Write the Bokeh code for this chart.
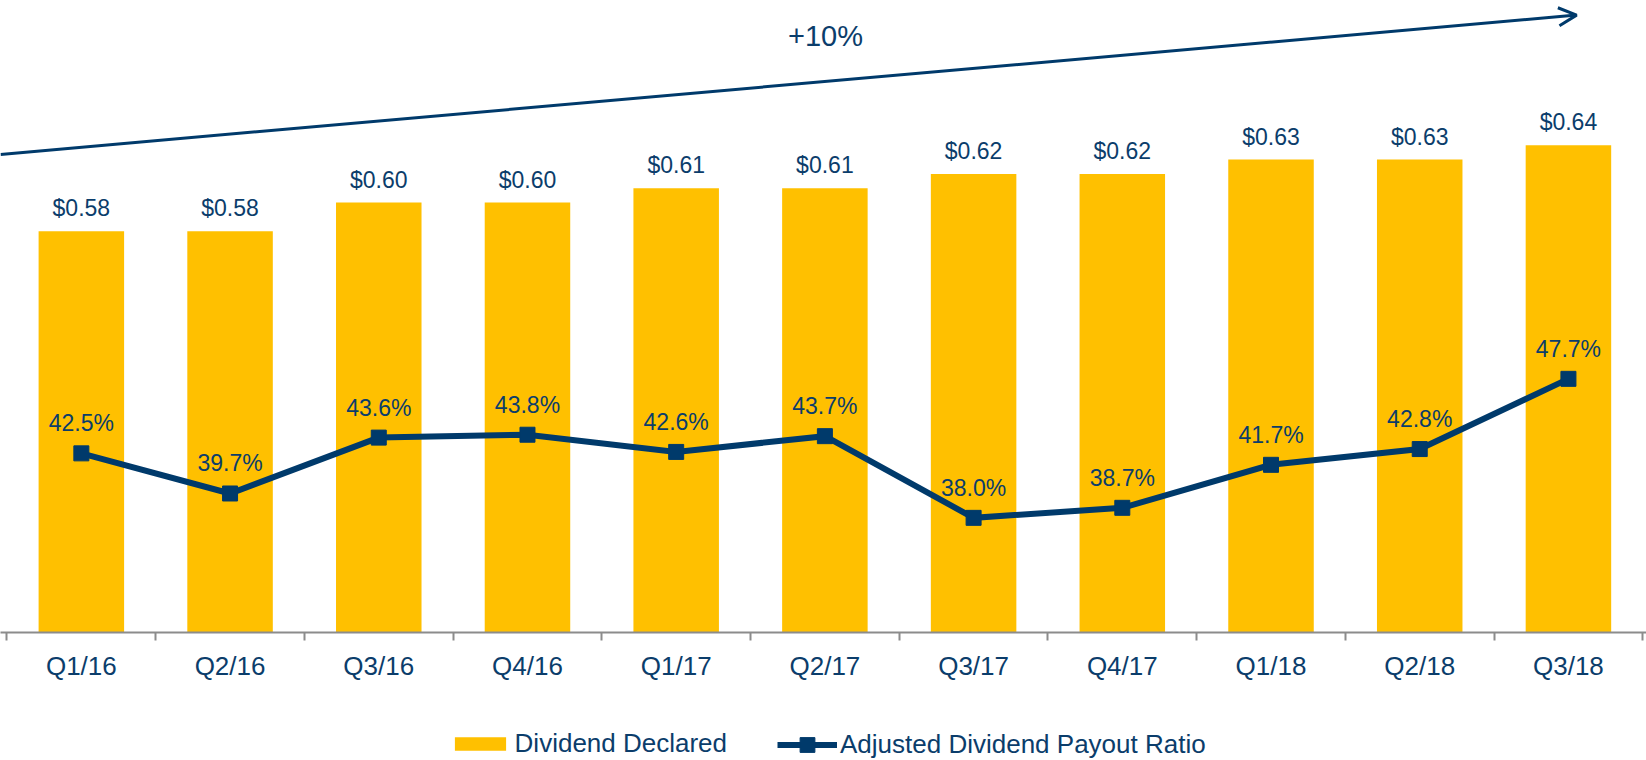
from bokeh.plotting import figure
from bokeh.layouts import column
from bokeh.models import (Range1d, FixedTicker, ColumnDataSource, Arrow, OpenHead,
                          Label, Legend, LegendItem)
from bokeh.embed import file_html
from bokeh.resources import INLINE
from bokeh.core.properties import value

# ---- data ----
categories = ["Q1/16", "Q2/16", "Q3/16", "Q4/16", "Q1/17", "Q2/17",
              "Q3/17", "Q4/17", "Q1/18", "Q2/18", "Q3/18"]
dividend_declared = [0.58, 0.58, 0.60, 0.60, 0.61, 0.61, 0.62, 0.62, 0.63, 0.63, 0.64]
payout_ratio = [42.5, 39.7, 43.6, 43.8, 42.6, 43.7, 38.0, 38.7, 41.7, 42.8, 47.7]
series_names = ["Dividend Declared", "Adjusted Dividend Payout Ratio"]
growth_label = "+10%"

# ---- styles ----
GOLD = "#FFC000"
NAVY = "#003A6B"
TEXT = "#0B3D6B"
AXIS = "#8C8C8C"
FONT = "Liberation Sans"

n = len(categories)
xs = [i + 0.5 for i in range(n)]
src = ColumnDataSource(dict(
    x=xs,
    div=dividend_declared,
    pct=payout_ratio,
    div_label=[f"${v:.2f}" for v in dividend_declared],
    pct_label=[f"{v:.1f}%" for v in payout_ratio],
))

p = figure(width=1646, height=698, x_range=Range1d(-0.0437, 11.025), y_range=Range1d(0.30, 0.741),
           output_backend="svg", toolbar_location=None, y_axis_location=None,
           min_border_left=0, min_border_right=0, min_border_top=0, min_border_bottom=66)
p.extra_y_ranges = {"pct": Range1d(30, 74.1)}
p.grid.visible = False
p.outline_line_color = None
p.background_fill_color = "white"
p.border_fill_color = "white"

# x axis: labels at centres, tick marks at category boundaries
ax = p.xaxis[0]
ax.ticker = FixedTicker(ticks=xs, minor_ticks=list(range(n + 1)))
ax.major_label_overrides = {x: c for x, c in zip(xs, categories)}
ax.major_tick_line_color = None
ax.major_tick_out = 8
ax.major_tick_in = 0
ax.minor_tick_line_color = AXIS
ax.minor_tick_line_width = 2
ax.minor_tick_out = 8
ax.minor_tick_in = 0
ax.axis_line_color = AXIS
ax.axis_line_width = 2
ax.major_label_standoff = 10
ax.major_label_text_font = FONT
ax.major_label_text_font_size = "26px"
ax.major_label_text_color = TEXT

bars = p.vbar(x="x", top="div", bottom=0.30, width=0.575, source=src,
              fill_color=GOLD, line_color=None)

line = p.line(x="x", y="pct", source=src, y_range_name="pct",
              line_color=NAVY, line_width=6, line_join="miter")
marks = p.scatter(x="x", y="pct", source=src, y_range_name="pct", marker="square",
                  size=15, fill_color=NAVY, line_color=NAVY)

p.text(x="x", y="div", text="div_label", source=src, y_offset=-23,
       text_align="center", text_baseline="alphabetic",
       text_font=value(FONT), text_font_size="23px", text_color=TEXT)
p.text(x="x", y="pct", text="pct_label", source=src, y_range_name="pct", y_offset=-30,
       text_align="center", text_baseline="alphabetic",
       text_font=value(FONT), text_font_size="23px", text_color=TEXT)

# growth arrow
p.add_layout(Arrow(end=OpenHead(size=18, line_color=NAVY, line_width=3),
                   x_start=-0.0437, y_start=0.6336, x_end=10.555, y_end=0.7308,
                   line_color=NAVY, line_width=3))
p.add_layout(Label(x=5.504, y=0.7159, text=growth_label, text_align="center",
                   text_baseline="middle", text_font=FONT, text_font_size="29px",
                   text_color=TEXT))

# ---- legend strip (separate figure below the chart; its ranges keep the data out of view) ----
lg = figure(width=1646, height=62, x_range=Range1d(-3, -2), y_range=Range1d(-3, -2),
            output_backend="svg", toolbar_location=None,
            x_axis_location=None, y_axis_location=None,
            min_border_left=0, min_border_right=0, min_border_top=0, min_border_bottom=0)
lg.grid.visible = False
lg.outline_line_color = None
lg.border_fill_color = "white"
lg.background_fill_color = "white"

lb = lg.vbar(x="x", top="div", width=0.575, source=src, fill_color=GOLD, line_color=None)
ll = lg.line(x="x", y="pct", source=src, line_color=NAVY, line_width=6)
lm = lg.scatter(x="x", y="pct", source=src, marker="square", size=15,
                fill_color=NAVY, line_color=NAVY)

common = dict(orientation="horizontal", label_standoff=3, padding=0, margin=0,
              border_line_color=None, background_fill_alpha=0,
              label_text_font=FONT, label_text_font_size="26px", label_text_color=TEXT)
lg.add_layout(Legend(items=[LegendItem(label=series_names[0], renderers=[lb])],
                     location=(447.6, 1.5), glyph_width=64, glyph_height=17, **common))
lg.add_layout(Legend(items=[LegendItem(label=series_names[1], renderers=[ll, lm])],
                     location=(777, -2.5), glyph_width=60, glyph_height=37, **common))

layout = column(p, lg, spacing=0)
open("out.html", "w").write(file_html(layout, INLINE))
